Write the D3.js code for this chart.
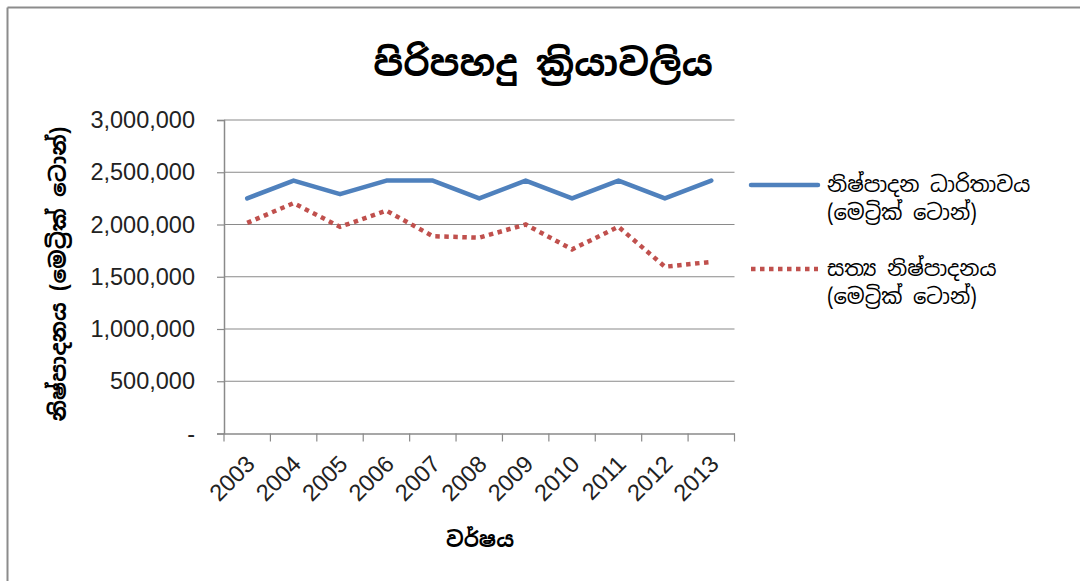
<!DOCTYPE html>
<html>
<head>
<meta charset="utf-8">
<script src="https://cdn.jsdelivr.net/npm/d3@7"></script>
<style>
  html, body { margin: 0; padding: 0; background: #fff; }
  svg { display: block; }
  .sin { font-family: "Iskoola Pota", "Noto Sans Sinhala", "Noto Serif Sinhala", "Noto Sans", sans-serif; }
  .num { font-family: Carlito, Calibri, "Liberation Sans", "DejaVu Sans", sans-serif; }
</style>
</head>
<body>
<svg id="chart" width="1080" height="581"></svg>
<script>
const years = ["2003","2004","2005","2006","2007","2008","2009","2010","2011","2012","2013"];
const capacity = [2250000, 2420000, 2290000, 2420000, 2420000, 2250000, 2420000, 2250000, 2420000, 2250000, 2420000];
const actual = [2016000, 2204000, 1978000, 2132000, 1888000, 1874000, 2000000, 1762000, 1978000, 1596000, 1642000];
const yTicks = [0, 500000, 1000000, 1500000, 2000000, 2500000, 3000000];
const titleText = "පිරිපහදු ක්‍රියාවලිය";
const yTitle = "නිෂ්පාදනය (මෙට්‍රික් ටොන්)";
const xTitle = "වර්ෂය";
const seriesNames = [["නිෂ්පාදන ධාරිතාවය", "(මෙට්‍රික් ටොන්)"], ["සත්‍ය නිෂ්පාදනය", "(මෙට්‍රික් ටොන්)"]];
const colors = ["#4F81BD", "#C0504D"];

(function () {
const svg = d3.select("#chart");
const W = 1080, H = 581;

svg.append("line").attr("x1", 7.5).attr("x2", W).attr("y1", 7.5).attr("y2", 7.5)
  .attr("stroke", "#8c8c8c").attr("stroke-width", 2);
svg.append("line").attr("x1", 7.5).attr("x2", 7.5).attr("y1", 7.5).attr("y2", H)
  .attr("stroke", "#8c8c8c").attr("stroke-width", 2);

const pL = 224, pR = 734.5, pT = 120, pB = 433.5;
const x = d3.scaleBand().domain(years).range([pL, pR]).padding(0);
const y = d3.scaleLinear().domain([0, 3000000]).range([pB, pT]);

svg.append("g").selectAll("line").data(yTicks.filter(d => d > 0)).join("line")
  .attr("x1", pL).attr("x2", pR)
  .attr("y1", d => y(d)).attr("y2", d => y(d))
  .attr("stroke", "#8a8a8a").attr("stroke-width", 1.2);

const fmt = d => d === 0 ? "-" : d3.format(",")(d);
const yAxis = svg.append("g").attr("transform", `translate(${pL},0)`)
  .call(d3.axisLeft(y).tickValues(yTicks).tickFormat(fmt).tickSize(7).tickPadding(22));
yAxis.select(".domain").attr("stroke", "#8a8a8a").attr("stroke-width", 1.5);
yAxis.selectAll(".tick line").attr("stroke", "#8a8a8a").attr("stroke-width", 1.2);
yAxis.selectAll("text").attr("class", "num").style("font-family", "'Liberation Sans', sans-serif")
  .style("font-size", "23.5px").attr("fill", "#222");

const xAxis = svg.append("g").attr("transform", `translate(0,${pB})`)
  .call(d3.axisBottom(x).tickSize(0).tickFormat(""));
xAxis.select(".domain").attr("stroke", "#8a8a8a").attr("stroke-width", 1.5);
const bounds = years.map(d => x(d)).concat([x(years[years.length - 1]) + x.bandwidth()]);
svg.append("g").selectAll("line").data(bounds).join("line")
  .attr("x1", d => d).attr("x2", d => d).attr("y1", pB).attr("y2", pB + 8)
  .attr("stroke", "#8a8a8a").attr("stroke-width", 1.2);
svg.append("g").selectAll("text").data(years).join("text")
  .style("font-family", "'Liberation Sans', sans-serif")
  .attr("transform", d => `translate(${x(d) + x.bandwidth() / 2 + 9},${pB + 32}) rotate(-45)`)
  .attr("text-anchor", "end")
  .style("font-size", "23.5px").attr("fill", "#222")
  .text(d => d);

const line = d3.line().x((d, i) => x(years[i]) + x.bandwidth() / 2).y(d => y(d));
svg.append("path").datum(capacity).attr("d", line)
  .attr("fill", "none").attr("stroke", colors[0]).attr("stroke-width", 4.5)
  .attr("stroke-linejoin", "round").attr("stroke-linecap", "round");
svg.append("path").datum(actual).attr("d", line)
  .attr("fill", "none").attr("stroke", colors[1]).attr("stroke-width", 4.5)
  .attr("stroke-dasharray", "4.5,4.5");

svg.append("text").attr("class", "sin").attr("x", 543).attr("y", 76)
  .attr("text-anchor", "middle").style("font-size", "36.5px").style("font-weight", "bold")
  .attr("fill", "#000").text(titleText);

svg.append("text").attr("class", "sin")
  .attr("transform", "translate(66,274) rotate(-90)")
  .attr("text-anchor", "middle").style("font-size", "22px").style("font-weight", "bold")
  .attr("fill", "#000").text(yTitle);

svg.append("text").attr("class", "sin").attr("x", 480).attr("y", 547)
  .attr("text-anchor", "middle").style("font-size", "21px").style("font-weight", "bold")
  .attr("fill", "#000").text(xTitle);

const legY = [185, 269];
seriesNames.forEach((names, i) => {
  const g = svg.append("g");
  g.append("line").attr("x1", 751).attr("x2", 818).attr("y1", legY[i]).attr("y2", legY[i])
    .attr("stroke", colors[i]).attr("stroke-width", 4.5)
    .attr("stroke-linecap", i === 0 ? "round" : "butt")
    .attr("stroke-dasharray", i === 0 ? null : "4.5,4.5");
  names.forEach((t, j) => {
    g.append("text").attr("class", "sin").attr("x", 827).attr("y", legY[i] + 7 + j * 28)
      .style("font-size", "21px").attr("fill", "#000").text(t);
  });
});
})();
</script>
</body>
</html>
